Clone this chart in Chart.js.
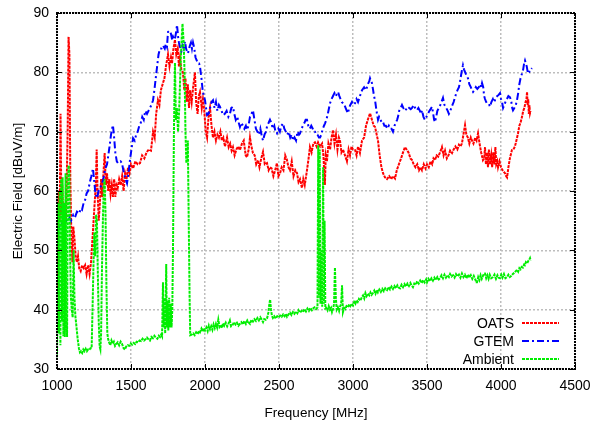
<!DOCTYPE html>
<html>
<head>
<meta charset="utf-8">
<script src="https://cdn.jsdelivr.net/npm/chart.js@4/dist/chart.umd.min.js"></script>
<style>
  html, body { margin: 0; padding: 0; background: #fff; }
  #wrap { width: 591px; height: 424px; }
</style>
</head>
<body>
<div id="wrap"><canvas id="grafico" width="591" height="424"></canvas></div>
<script>
// Valores (frequência em MHz, campo em dBuV/m)
const oatsFreq = [1000,1006,1012,1018,1024,1030,1036,1044,1052,1060,1066,1072,1078,1084,1090,1096,1104,1110,1118,1126,1134,1142,1150,1160,1170,1180,1190,1200,1210,1220,1230,1240,1252,1262,1268,1274,1282,1290,1298,1306,1314,1322,1330,1338,1346,1354,1362,1370,1378,1386,1394,1402,1410,1420,1430,1440,1450,1460,1470,1480,1490,1500,1514,1530,1545,1561,1575,1590,1605,1620,1635,1649,1660,1670,1682,1692,1702,1716,1726,1736,1750,1760,1770,1777,1787,1797,1806,1816,1824,1831,1840,1851,1860,1868,1876,1884,1892,1900,1910,1920,1932,1940,1950,1958,1966,1978,1986,1995,2005,2014,2024,2034,2044,2054,2064,2074,2084,2094,2104,2114,2124,2135,2149,2160,2170,2180,2189,2200,2212,2224,2236,2250,2262,2275,2284,2295,2304,2314,2324,2336,2346,2358,2368,2380,2392,2404,2419,2430,2439,2450,2462,2474,2486,2496,2507,2518,2530,2542,2554,2564,2574,2586,2598,2610,2622,2632,2642,2655,2664,2674,2689,2700,2709,2720,2732,2743,2754,2764,2778,2791,2800,2810,2816,2824,2834,2845,2855,2865,2875,2885,2895,2905,2912,2922,2932,2946,2959,2970,2980,2990,3000,3014,3024,3034,3047,3061,3075,3088,3100,3115,3128,3140,3149,3160,3169,3180,3192,3203,3216,3230,3245,3258,3270,3284,3296,3310,3325,3338,3351,3362,3375,3388,3399,3410,3422,3434,3446,3456,3466,3478,3490,3500,3512,3524,3535,3544,3554,3565,3576,3588,3601,3612,3622,3634,3645,3656,3669,3680,3692,3705,3716,3726,3736,3746,3757,3766,3776,3786,3796,3804,3814,3826,3835,3845,3855,3866,3878,3886,3892,3898,3905,3912,3918,3926,3934,3940,3948,3955,3962,3968,3975,3980,3990,4000,4010,4020,4027,4035,4041,4050,4060,4074,4084,4094,4104,4115,4124,4132,4142,4150,4158,4166,4172,4176,4180,4184,4188,4192,4196,4200];
const oatsNivel = [43,52,60,55,73,56,61,53,58,55,62,70,86,83,62,54,48,54,52,49,48,49,47,46.5,47.5,47,47.5,46,47.5,46,48,52,57,61,67,60,55,58,62,59,63,66.4,61,63,60,62,59.5,61,59,62,59,61,60.5,62,61,62.5,60,63,62,64,63,64.5,63.8,65,64.5,64.7,66,65.5,66.5,67,66.8,70,69,73,75.3,74.5,77,78.2,79,81,83,81,82.5,81.5,84,85.5,83,84,81,82.4,80.5,80,77,79,75,78,74,77,75,77.5,80,75,73,76,76.7,74,75.5,73.6,70,69,72.5,74,71,69,70,68.5,69.5,69,70,68.5,69,67.5,69,67.4,68,66.8,67.4,66,67,67.5,66.9,68,68.5,66,65.7,67,69,67.5,66.4,66,64.5,65.2,64,65.5,66.6,64.5,64.7,63.5,64,63.8,62.5,63.5,64.7,62.5,63,64,63.5,66,65.2,64,63.5,65,62.5,63.5,63,61.5,62,60.5,62,61,63.5,65.5,67.4,66.5,68,68.2,67.5,68.2,67.5,68,66,61,66,65,68,67,69,70.3,68,69.5,67,69,68.5,66.5,67,66,65,67,66,67.5,67,66.9,66,67.5,66.4,68.5,69,71,72,73.1,72,71,70.8,69.5,68.5,66,64,63,62.3,62,62.5,62,62.5,62.1,63.5,64.5,65.5,66.5,67.4,67,66.5,65.5,65.2,64.5,64,64.5,63.5,64,63.5,64.5,63.8,64.5,64,65,64.5,65.5,65.2,66,65.8,66.5,67.4,66,66.8,65.5,66,66.8,66.4,67,67.5,67,67.8,67.5,68,69.5,71.1,69.5,69,68,69,68.5,68,69,68.5,69.7,68,66.5,65.2,65.5,67.4,64.5,66.5,64,67,64.5,66,64,66.5,64.5,67.4,64.5,65,64,65,64,63.5,63.2,63,62.5,62.3,64,65.5,66.9,67,67.5,68.5,69.7,71,71.5,72.5,73.5,74,75,75.5,76.7,74.5,75.5,73,74.5,73.1,73.5];

const gtemFreq = [1000,1010,1020,1030,1040,1050,1060,1074,1085,1095,1110,1122,1135,1150,1160,1169,1180,1190,1200,1210,1222,1232,1243,1250,1258,1266,1272,1280,1290,1300,1311,1320,1330,1338,1345,1355,1365,1372,1378,1386,1394,1404,1412,1420,1430,1439,1448,1458,1466,1473,1483,1493,1503,1514,1525,1535,1545,1556,1566,1576,1586,1596,1608,1618,1628,1638,1649,1658,1667,1676,1686,1696,1706,1716,1728,1736,1743,1750,1760,1770,1778,1784,1792,1800,1806,1811,1818,1824,1831,1840,1848,1856,1865,1872,1878,1885,1892,1898,1905,1912,1919,1928,1936,1944,1952,1960,1966,1976,1984,1992,2000,2007,2014,2024,2034,2044,2054,2064,2074,2084,2094,2101,2112,2122,2134,2146,2158,2168,2178,2189,2198,2208,2218,2228,2236,2246,2256,2266,2276,2284,2294,2304,2314,2324,2334,2344,2354,2364,2374,2384,2392,2402,2412,2420,2430,2439,2448,2458,2468,2476,2486,2496,2506,2516,2527,2536,2546,2556,2566,2576,2586,2595,2605,2615,2625,2635,2642,2652,2662,2672,2680,2689,2698,2708,2718,2728,2736,2743,2752,2760,2770,2777,2786,2796,2804,2811,2820,2830,2838,2845,2855,2865,2875,2885,2892,2899,2908,2916,2924,2932,2942,2950,2958,2966,2974,2982,2993,3003,3014,3024,3034,3047,3061,3075,3088,3100,3110,3115,3122,3128,3136,3142,3149,3156,3162,3169,3176,3186,3195,3203,3212,3222,3232,3242,3252,3260,3270,3280,3290,3298,3304,3312,3322,3331,3340,3350,3360,3370,3380,3390,3399,3410,3420,3432,3442,3452,3460,3466,3476,3486,3496,3506,3516,3524,3534,3542,3548,3554,3562,3570,3580,3590,3598,3608,3618,3630,3640,3648,3655,3664,3672,3680,3689,3698,3706,3716,3723,3730,3737,3743,3750,3758,3766,3777,3786,3796,3804,3811,3820,3830,3840,3850,3860,3866,3872,3880,3886,3892,3900,3905,3912,3920,3926,3935,3945,3952,3959,3966,3975,3984,3993,4000,4007,4014,4022,4030,4040,4050,4061,4070,4076,4081,4090,4100,4108,4116,4124,4132,4142,4150,4156,4162,4168,4174,4182,4190,4196,4202,4209];
const gtemNivel = [53,53.5,54.5,54,55,54.5,55,54.8,55.5,55,56,55.6,56.5,56.2,57,56.8,58,58.5,59.6,60,61.5,62.5,63.8,62,60,59,58.8,60,60.5,61,61.8,63,64,64.5,65.7,67.5,69.5,70.5,71.1,69,66.5,65,64.7,64.8,65,64.7,63.5,62.5,61.8,61.3,63,65.2,67,68.9,68.5,69.5,70,71,71.5,72.5,72,73.5,73,73.5,74,74.5,75.3,77,79,80.9,83,84,84,84.5,84,84.8,84.3,86.8,87,86.5,85.5,86,85.5,86,87,88,86,85,84.3,83.5,84.5,84,85.2,84,83.5,83.2,84,84.5,85,84,85,84,82.5,82,81.5,81.5,81,79,77,76,75.3,74,72.8,73,74,75,75.3,74,75,73.5,74.5,74.2,73.5,72.8,73,73.5,72.5,73,74,74.2,73,72,72.5,71.5,70.8,71.5,71,70.5,71,70.3,71,72.5,73,73.6,72,70.5,70,69.5,70.5,69.2,68.5,69.5,70,71,71.5,72,71.5,70.5,71,70,69.7,70.5,70,71,71.4,70.5,70,69.5,70,69,69.5,68.5,69,68.5,70,69.5,69.7,70.5,71,71.5,72,72,71,70.5,71,70.5,70,70,69.5,69.5,69,69,69.5,70.5,71,71.4,72,73,74,74.8,75.5,76,76.5,76,76.5,76.7,76,75.5,75,74.8,74.5,74,73.5,73.1,74,74.5,75,74.5,74.8,75.5,75,76,77,77.5,77,78,78.5,79,78.5,78.2,77,76,75.3,74,73,72,72.5,72,71.5,71.6,71,71,70.5,71,70.5,70.5,70,71,71.5,72,72.5,73.5,74,74.5,74,73.5,73.8,74.2,74,73.8,74,74.5,74,73.6,74,73.5,73,73.6,72.5,72,72.5,73,73.5,73.8,74.2,73,72,71.6,72.5,73.5,74,74.5,75,75.7,74.5,74,73.5,73,73.3,74,74.5,75,75.8,76.5,77,77.5,78.4,79.5,80.5,81.2,80.5,80,79.5,79,78,77.5,77,76.7,77,77.5,77.2,77.5,78,77.5,78.2,77.5,76,75.5,75,74.8,74.5,74.5,74.2,75,75.5,75,75.3,75.8,76,76.2,76.5,75.5,75,74,74.5,75,75.5,76,75.8,75,74,73.6,74,74.5,75.3,76.5,78,79,79.8,80.5,81.5,82,81.5,81,79.8,80,80.5,80.5,80.7];

const ambFreq = [1000,1004,1008,1013,1018,1023,1028,1033,1038,1043,1048,1053,1058,1063,1068,1073,1078,1083,1088,1094,1100,1106,1112,1118,1124,1132,1140,1148,1155,1162,1170,1178,1186,1194,1202,1210,1218,1226,1234,1240,1246,1252,1258,1264,1270,1276,1282,1288,1293,1298,1304,1310,1316,1322,1328,1334,1340,1346,1352,1360,1368,1376,1384,1392,1400,1410,1420,1430,1440,1450,1459,1468,1478,1488,1498,1508,1518,1528,1538,1548,1558,1568,1578,1588,1598,1608,1618,1628,1638,1648,1658,1668,1678,1688,1696,1704,1710,1716,1720,1726,1731,1738,1742,1747,1752,1758,1763,1768,1774,1779,1784,1790,1797,1803,1810,1818,1826,1836,1843,1848,1856,1862,1868,1874,1880,1884,1890,1896,1900,1910,1920,1930,1940,1950,1960,1966,1976,1984,1992,2000,2010,2018,2026,2034,2042,2050,2058,2066,2074,2082,2090,2098,2106,2114,2122,2130,2140,2150,2158,2168,2176,2186,2196,2206,2216,2226,2236,2246,2256,2266,2276,2286,2296,2304,2314,2324,2334,2344,2354,2364,2374,2384,2392,2400,2410,2420,2428,2434,2440,2446,2452,2459,2468,2478,2488,2498,2508,2518,2528,2538,2546,2554,2564,2574,2584,2594,2604,2614,2624,2632,2642,2652,2662,2672,2682,2692,2702,2712,2722,2730,2740,2750,2760,2765,2770,2775,2780,2786,2792,2798,2803,2808,2813,2820,2828,2836,2844,2852,2858,2866,2872,2878,2884,2890,2898,2906,2912,2920,2926,2932,2940,2948,2956,2966,2974,2982,2990,3000,3008,3016,3024,3032,3040,3050,3060,3068,3076,3084,3092,3100,3110,3118,3126,3135,3144,3152,3160,3168,3178,3188,3198,3208,3218,3230,3240,3250,3260,3270,3280,3290,3300,3310,3318,3328,3338,3348,3358,3368,3378,3388,3396,3405,3414,3424,3434,3444,3454,3464,3474,3484,3494,3500,3510,3520,3530,3540,3550,3560,3570,3580,3588,3598,3608,3618,3628,3638,3648,3656,3666,3676,3686,3696,3706,3716,3726,3736,3746,3756,3766,3770,3778,3786,3796,3806,3816,3826,3834,3838,3846,3854,3862,3870,3878,3886,3892,3900,3908,3916,3924,3934,3946,3956,3966,3976,3984,3993,4002,4010,4020,4030,4041,4050,4060,4070,4080,4090,4100,4108,4116,4124,4132,4140,4148,4156,4162,4168,4176,4184,4190,4196,4200];
const ambNivel = [32,44,58,36,60,34,62,38,62.3,35.5,58,35.4,63,40,35.4,60,64.3,63,50,42,40,38.7,50,42,39,37,35,33.5,32.8,33,32.7,33.3,33,33.4,33,33.3,33.2,33.5,33.5,40,47,53,49,56,55,46,38,33.8,33.3,36,47,55,60.6,62,56,44,36,35,34.5,34,34.8,34.3,34.6,33.9,34.2,34.5,34,34.6,34.2,33.5,33.3,33.8,34,33.9,34.3,34.1,34.4,34.2,34.6,34.5,34.8,34.7,35.1,34.8,35,35.3,35,34.8,35.4,35.2,35.6,35.3,35.1,35.6,35.4,35.8,35.5,44.6,37,42,36,47.7,37,41.5,36.5,42,37,41,37,40,50.8,70,81.6,72,74,70,74,82,86,88.2,85,80,70,64.7,66,68.5,55,42,35.7,35.8,36,35.7,36.2,35.9,36.4,36.2,36.8,36.3,36.9,36.5,37,36.4,37.3,36.7,37.2,36.6,37.5,36.9,37.6,37,38.3,37.1,37.4,36.9,37.7,37.3,37.8,37.2,37.6,38.2,37.2,37.4,37.9,37.5,37.8,37.3,37.6,37.9,37.5,38.1,37.6,38.2,37.8,37.6,38.3,38,38.4,38.1,38.6,38.2,38.7,38.3,37.9,38.4,38.3,38.6,39.5,40.8,41.7,40,39,38.6,38.9,38.5,38.9,38.7,39,38.8,39.2,38.9,39.3,38.8,39.2,39.5,39.1,39.6,39.3,39.7,39.4,39.9,39.5,39.8,39.6,40.1,39.7,40.2,39.8,40.3,39.9,40.2,40.4,40.1,40.4,67.7,42,67,41,50,40.5,64,41,55,40.2,40.3,39.9,40.6,40,40.3,39.6,40.2,41,47.1,42,40,40.4,39.8,40.5,41,44.1,39.6,40.3,40.1,40.6,40.4,40.9,40.6,41,40.7,41.3,41,41.6,41.3,41.8,41.5,42.1,42.4,41.9,42.8,42.3,42.7,42.4,42.9,42.5,42.8,43.2,42.7,43.3,42.9,43.4,43,43.5,43.1,43.6,43.3,43.8,43.4,43.9,43.5,44,43.6,44.1,43.7,43.6,44.2,43.8,44.3,43.9,44.4,44,44.5,44.1,43.8,44.4,44.2,44.8,44.4,44.9,44.5,45,44.6,45.1,44.6,45.2,44.8,45.3,44.9,45.4,45,45.5,45.1,45.3,45.8,45.3,45.9,45.4,45.8,45.5,46,45.6,45.8,45.4,46,45.6,45.9,45.4,46.1,45.5,45.9,45.3,45.5,45.9,45.4,45.8,45.2,45.7,45.1,44.6,44.6,45.5,45,45.8,45.2,45.7,46.1,46.1,45.3,45.8,45.2,45.9,45.3,45.5,45.9,45.2,45.8,45.4,45.3,45.9,45.4,46,45.3,45.5,45.9,45.5,45.7,46,46.2,46.5,46.7,46.4,47,46.8,47.2,47.1,47.6,47.5,48,47.8,48.2,48.4,48.7,48.3];

const rotulosSeries = ['OATS', 'GTEM', 'Ambient'];
const coresSeries = ['#ff0000', '#0000ff', '#00ee00'];
const ticksX = [1000, 1500, 2000, 2500, 3000, 3500, 4000, 4500];
const ticksY = [30, 40, 50, 60, 70, 80, 90];

const fonte = "'Liberation Sans', Arial, sans-serif";

function pares(freqs, niveis) {
    return freqs.map((f, i) => ({ x: f, y: niveis[i] }));
}

// Moldura pontilhada, marcas internas e legenda no canto inferior direito
const pluginMoldura = {
    id: 'moldura',
    afterDatasetsDraw(chart) {
        const { ctx, chartArea: a, scales } = chart;
        ctx.save();
        ctx.strokeStyle = '#000';
        ctx.lineWidth = 1;
        ctx.setLineDash([]);
        ctx.beginPath();
        ticksX.forEach(v => {
            const px = Math.round(scales.x.getPixelForValue(v)) + 0.5;
            ctx.moveTo(px, a.bottom); ctx.lineTo(px, a.bottom - 5);
            ctx.moveTo(px, a.top); ctx.lineTo(px, a.top + 5);
        });
        ticksY.forEach(v => {
            const py = Math.round(scales.y.getPixelForValue(v)) + 0.5;
            ctx.moveTo(a.left, py); ctx.lineTo(a.left + 5, py);
            ctx.moveTo(a.right, py); ctx.lineTo(a.right - 5, py);
        });
        ctx.stroke();
        ctx.lineWidth = 2;
        ctx.setLineDash([2, 1]);
        ctx.strokeRect(a.left, a.top, a.right - a.left, a.bottom - a.top);
        ctx.restore();
    },
    afterDraw(chart) {
        const { ctx, chartArea: a } = chart;
        ctx.save();
        ctx.font = '14px ' + fonte;
        ctx.textAlign = 'right';
        ctx.textBaseline = 'middle';
        chart.data.datasets.forEach((ds, i) => {
            const y = a.bottom - 46 + i * 18;
            ctx.fillStyle = '#000';
            ctx.fillText(ds.label, a.right - 61, y + 1);
            ctx.strokeStyle = ds.borderColor;
            ctx.lineWidth = 2;
            ctx.setLineDash(ds.borderDash);
            ctx.beginPath();
            ctx.moveTo(a.right - 53, y);
            ctx.lineTo(a.right - 16, y);
            ctx.stroke();
        });
        ctx.restore();
    }
};

new Chart(document.getElementById('grafico'), {
    type: 'line',
    data: {
        datasets: [
            { label: rotulosSeries[0], data: pares(oatsFreq, oatsNivel), borderColor: coresSeries[0], borderDash: [3, 1], order: 3 },
            { label: rotulosSeries[1], data: pares(gtemFreq, gtemNivel), borderColor: coresSeries[1], borderDash: [7, 3, 2, 3], order: 2 },
            { label: rotulosSeries[2], data: pares(ambFreq, ambNivel), borderColor: coresSeries[2], borderDash: [3, 1], order: 1 }
        ]
    },
    options: {
        responsive: false,
        animation: false,
        devicePixelRatio: 1,
        layout: { padding: { top: 13, right: 16, left: 0, bottom: 0 } },
        elements: {
            point: { radius: 0 },
            line: { borderWidth: 2, tension: 0 }
        },
        plugins: {
            legend: { display: false },
            tooltip: { enabled: false }
        },
        scales: {
            x: {
                type: 'linear',
                min: 1000,
                max: 4500,
                afterFit: s => { s.height = 55; s.paddingLeft = 0; s.paddingRight = 0; },
                afterBuildTicks: s => { s.ticks = ticksX.map(v => ({ value: v })); },
                ticks: { color: '#000', padding: 9, maxRotation: 0, font: { family: fonte, size: 14 }, callback: v => String(v) },
                grid: { color: '#bdbdbd', lineWidth: 1.5, drawTicks: false },
                border: { display: false, dash: [2, 2] },
                title: { display: true, text: 'Frequency [MHz]', color: '#000', padding: { top: 0, bottom: 3 }, font: { family: fonte, size: 13.5 } }
            },
            y: {
                min: 30,
                max: 90,
                afterFit: s => { s.width = 57; s.paddingTop = 0; s.paddingBottom = 0; },
                afterBuildTicks: s => { s.ticks = ticksY.map(v => ({ value: v })); },
                ticks: { color: '#000', padding: 8, font: { family: fonte, size: 14 }, callback: v => String(v) },
                grid: { color: '#bdbdbd', lineWidth: 1.5, drawTicks: false },
                border: { display: false, dash: [2, 2] },
                title: { display: true, text: 'Electric Field [dBuV/m]', color: '#000', padding: { top: 10, bottom: 0 }, font: { family: fonte, size: 13.5 } }
            }
        }
    },
    plugins: [pluginMoldura]
});
</script>
</body>
</html>
